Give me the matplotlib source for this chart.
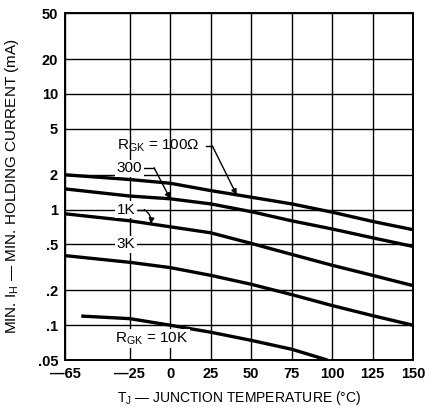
import numpy as np
import matplotlib
matplotlib.use("Agg")
import matplotlib.pyplot as plt
from matplotlib.ticker import FixedLocator, FixedFormatter, NullLocator

plt.rcParams['font.family'] = ['Liberation Sans', 'DejaVu Sans']
plt.rcParams['mathtext.fontset'] = 'custom'
plt.rcParams['mathtext.rm'] = 'Liberation Sans'

# junction temperature (C)
temps = [-65, -25, 0, 25, 50, 75, 100, 125, 150]
ih_100 = [2.0, 1.82, 1.69, 1.46, 1.28, 1.12, 0.95, 0.79, 0.67]
ih_300 = [1.51, 1.31, 1.24, 1.12, 0.96, 0.80, 0.68, 0.57, 0.48]
ih_1k = [0.92, 0.80, 0.71, 0.63, 0.51, 0.41, 0.33, 0.27, 0.22]
ih_3k = [0.40, 0.35, 0.315, 0.27, 0.226, 0.184, 0.148, 0.121, 0.10]
temps_10k = [-55, -25, 0, 25, 50, 75, 97]
ih_10k = [0.12, 0.114, 0.10, 0.087, 0.074, 0.062, 0.05]

xticks = [-65, -25, 0, 25, 50, 75, 100, 125, 150]
xlabels = ["\u201465", "\u201425", "0", "25", "50", "75", "100", "125", "150"]
yticks = [0.05, 0.1, 0.2, 0.5, 1, 2, 5, 10, 20, 50]
ylabels = [".05", ".1", ".2", ".5", "1", "2", "5", "10", "20", "50"]


def on_curve(t, xs, ys):
    # log interpolation so the arrow tip sits on the line
    return 10 ** np.interp(t, xs, np.log10(ys))


fig = plt.figure(figsize=(4.25, 4.11), dpi=100)
ax = fig.add_axes([0.153, 0.124, 0.819, 0.844])

ax.set_yscale("log")
ax.set_xlim(-65, 150)
ax.set_ylim(0.05, 50)

ax.xaxis.set_major_locator(FixedLocator(xticks))
ax.xaxis.set_major_formatter(FixedFormatter(xlabels))
ax.yaxis.set_major_locator(FixedLocator(yticks))
ax.yaxis.set_major_formatter(FixedFormatter(ylabels))
ax.yaxis.set_minor_locator(NullLocator())
ax.tick_params(length=0, labelsize=10.5, pad=5)
for lab in ax.get_xticklabels() + ax.get_yticklabels():
    lab.set_fontweight("bold")

ax.grid(True, color="black", linewidth=1.0)
for s in ax.spines.values():
    s.set_linewidth(1.4)

for xs, ys in [(temps, ih_100), (temps, ih_300), (temps, ih_1k),
               (temps, ih_3k), (temps_10k, ih_10k)]:
    ax.plot(xs, ys, color="black", linewidth=2.4, solid_capstyle="butt")

tfont = dict(fontsize=11, color="black", zorder=5)
wbox = dict(facecolor="white", edgecolor="none", pad=1.0)

# R_GK = 100 ohm
ax.text(-33, 3.6, "R$_{\\mathregular{GK}}$ = 100\u03a9", ha="left", va="center", **tfont)
ax.plot([22, 26], [3.55, 3.55], color="black", linewidth=1.0)
ax.annotate("", xy=(41, on_curve(41, temps, ih_100)), xytext=(26, 3.55),
            arrowprops=dict(arrowstyle="-|>", color="black", lw=1.0,
                            mutation_scale=8, shrinkA=0, shrinkB=0))

# 300
ax.text(-33, 2.27, "300", ha="left", va="center", bbox=wbox, **tfont)
ax.plot([-17, -10], [2.3, 2.3], color="black", linewidth=1.0)
ax.annotate("", xy=(0, on_curve(0, temps, ih_300)), xytext=(-10, 2.3),
            arrowprops=dict(arrowstyle="-|>", color="black", lw=1.0,
                            mutation_scale=8, shrinkA=0, shrinkB=0))

# 1K
ax.text(-33, 1.0, "1K", ha="left", va="center", bbox=wbox, **tfont)
ax.plot([-20, -16], [1.0, 1.0], color="black", linewidth=1.0, zorder=6)
ax.annotate("", xy=(-12, on_curve(-12, temps, ih_1k)), xytext=(-16, 1.0),
            arrowprops=dict(arrowstyle="-|>", color="black", lw=1.0,
                            mutation_scale=8, shrinkA=0, shrinkB=0,
                            connectionstyle="arc3,rad=-0.3"))

# 3K
ax.text(-33, 0.5, "3K", ha="left", va="center", bbox=wbox, **tfont)

# R_GK = 10K
ax.text(-34, 0.077, "R$_{\\mathregular{GK}}$ = 10K", ha="left", va="center",
        bbox=wbox, **tfont)

ax.set_xlabel("T$_{\\mathregular{J}}$ \u2014 JUNCTION TEMPERATURE (\u00b0C)", fontsize=10, labelpad=6)
ax.set_ylabel("MIN. I$_{\\mathregular{H}}$ \u2014 MIN. HOLDING CURRENT (mA)", fontsize=11, labelpad=12)

fig.savefig("out.png", dpi=100)
